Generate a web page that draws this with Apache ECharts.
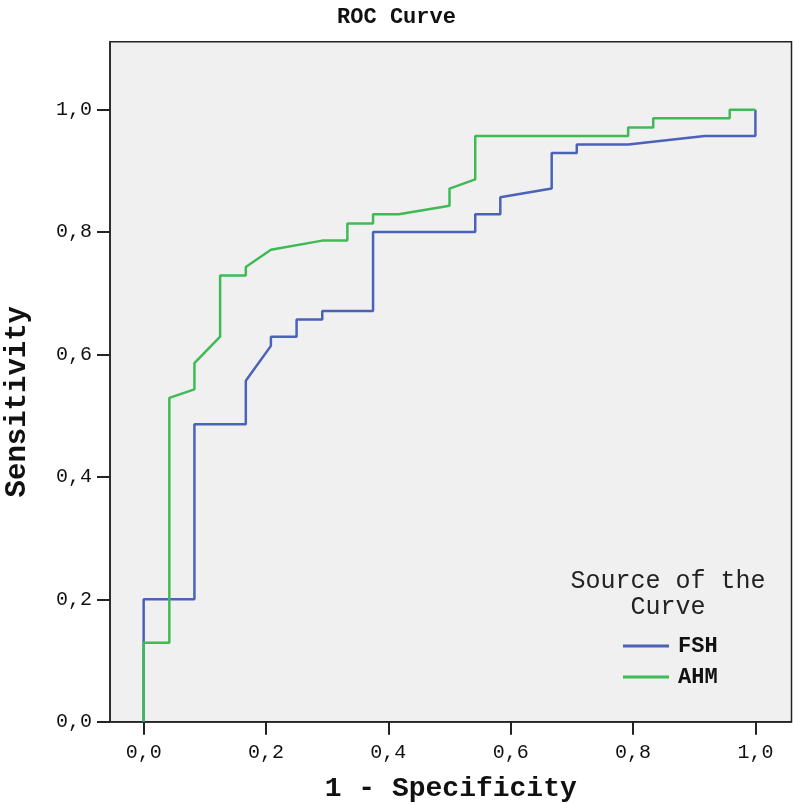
<!DOCTYPE html>
<html>
<head>
<meta charset="utf-8">
<script src="https://cdn.jsdelivr.net/npm/echarts@6/dist/echarts.min.js"></script>
<style>
html,body{margin:0;padding:0;background:#fff;}
#chart{width:793px;height:804px;}
</style>
</head>
<body>
<div id="chart"></div>
<script>
// ---- data ----
const seriesNames = ['FSH', 'AHM'];
const tickValues = [0, 0.2, 0.4, 0.6, 0.8, 1.0];

const fshX = [0, 0, 0.083, 0.083, 0.167, 0.167, 0.208, 0.208, 0.25, 0.25, 0.292, 0.292, 0.375, 0.375, 0.542, 0.542, 0.583, 0.583, 0.667, 0.667, 0.708, 0.708, 0.792, 0.917, 1, 1];
const fshY = [0, 0.2, 0.2, 0.486, 0.486, 0.557, 0.614, 0.629, 0.629, 0.657, 0.657, 0.671, 0.671, 0.8, 0.8, 0.829, 0.829, 0.857, 0.871, 0.929, 0.929, 0.943, 0.943, 0.957, 0.957, 1];

const ahmX = [0, 0, 0.042, 0.042, 0.083, 0.083, 0.125, 0.125, 0.167, 0.167, 0.208, 0.292, 0.333, 0.333, 0.375, 0.375, 0.417, 0.5, 0.5, 0.542, 0.542, 0.792, 0.792, 0.833, 0.833, 0.958, 0.958, 1];
const ahmY = [0, 0.129, 0.129, 0.529, 0.543, 0.586, 0.629, 0.729, 0.729, 0.743, 0.771, 0.786, 0.786, 0.814, 0.814, 0.829, 0.829, 0.843, 0.871, 0.886, 0.957, 0.957, 0.971, 0.971, 0.986, 0.986, 1, 1];

function pairs(xs, ys) { return xs.map((x, i) => [x, ys[i]]); }
const fmt = v => v.toFixed(1).replace('.', ',');
const FONT = '"Liberation Mono", "DejaVu Sans Mono", monospace';

const chart = echarts.init(document.getElementById('chart'), null, {renderer: 'canvas'});
chart.setOption({
  backgroundColor: '#ffffff',
  animation: false,
  title: [
    {
      text: 'ROC Curve', left: 'center', top: 1,
      textStyle: {fontFamily: FONT, fontWeight: 'bold', fontSize: 22, color: '#111'}
    },
    {
      text: 'Source of the\nCurve', left: 663, top: 563, textAlign: 'center',
      textStyle: {fontFamily: FONT, fontWeight: 'normal', fontSize: 25, lineHeight: 26, color: '#222'}
    }
  ],
  legend: {
    data: seriesNames,
    orient: 'vertical',
    left: 618, top: 630,
    icon: 'rect',
    itemWidth: 46, itemHeight: 3,
    itemGap: 9,
    textStyle: {fontFamily: FONT, fontWeight: 'bold', fontSize: 22, color: '#111', padding: [0, 0, 0, 4]}
  },
  grid: {
    left: 110, right: 1.5, top: 41.7, bottom: 82.3,
    show: true, backgroundColor: '#f0f0f0', borderColor: '#222', borderWidth: 1.5,
    containLabel: false, outerBoundsMode: 'none'
  },
  xAxis: {
    type: 'value', min: -0.055, max: 1.059,
    name: '1 - Specificity', nameLocation: 'middle', nameGap: 53,
    nameTextStyle: {fontFamily: FONT, fontWeight: 'bold', fontSize: 28, color: '#111'},
    axisLine: {show: true, onZero: false, lineStyle: {color: '#222', width: 1.5}},
    axisTick: {show: true, inside: false, length: 13, customValues: tickValues, lineStyle: {color: '#222', width: 2}},
    axisLabel: {customValues: tickValues, formatter: fmt, margin: 21,
      fontFamily: FONT, fontSize: 20, color: '#111'},
    splitLine: {show: false}
  },
  yAxis: {
    type: 'value', min: 0, max: 1.111,
    name: 'Sensitivity', nameLocation: 'middle', nameGap: 78,
    nameTextStyle: {fontFamily: FONT, fontWeight: 'bold', fontSize: 29, color: '#111', padding: [0, 40, 0, 0]},
    axisLine: {show: true, onZero: false, lineStyle: {color: '#222', width: 1.5}},
    axisTick: {show: true, inside: false, length: 13, customValues: tickValues, lineStyle: {color: '#222', width: 2}},
    axisLabel: {customValues: tickValues, formatter: fmt, margin: 18,
      fontFamily: FONT, fontSize: 20, color: '#111'},
    splitLine: {show: false}
  },
  series: [
    {
      name: seriesNames[0], type: 'line', data: pairs(fshX, fshY),
      showSymbol: false, symbol: 'none',
      lineStyle: {color: '#4a62b8', width: 2.5}, itemStyle: {color: '#4a62b8'}, z: 2
    },
    {
      name: seriesNames[1], type: 'line', data: pairs(ahmX, ahmY),
      showSymbol: false, symbol: 'none',
      lineStyle: {color: '#3fbb55', width: 2.5}, itemStyle: {color: '#3fbb55'}, z: 3
    }
  ]
});
</script>
</body>
</html>
